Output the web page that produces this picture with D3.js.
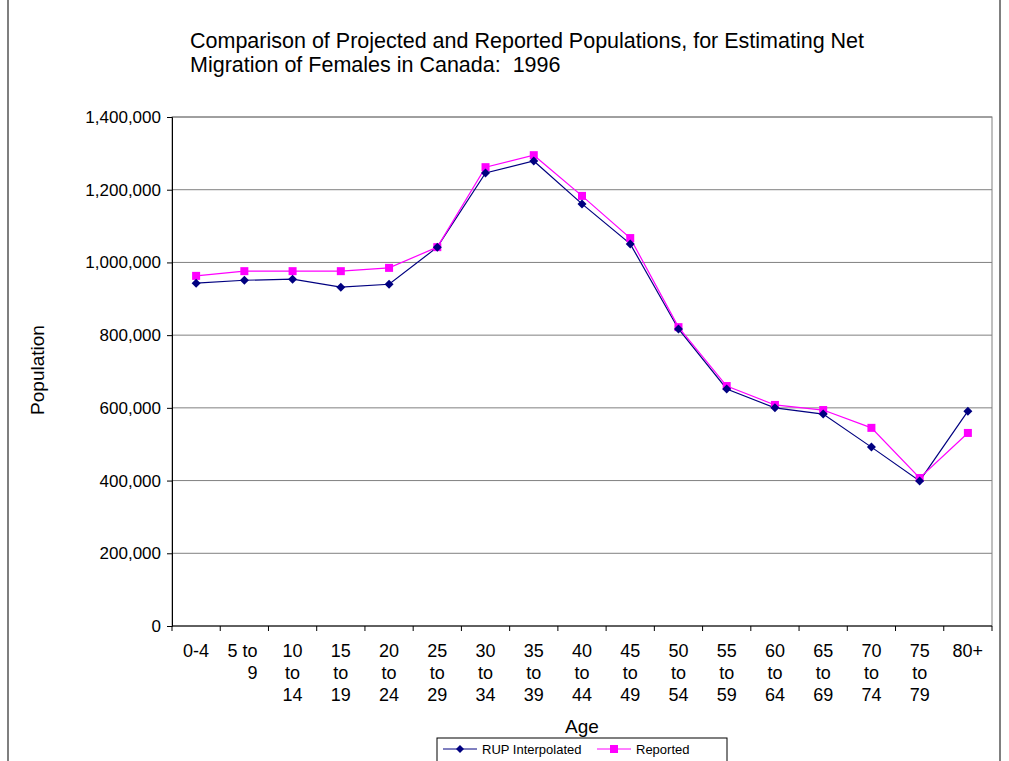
<!DOCTYPE html>
<html><head><meta charset="utf-8">
<script src="https://cdn.jsdelivr.net/npm/d3@7"></script>
<style>body{margin:0;background:#fff}text{font-family:"Liberation Sans",Arial,sans-serif;white-space:pre}</style>
</head><body>
<script>
var categories = [["0-4"],["5 to","9"],["10","to","14"],["15","to","19"],["20","to","24"],["25","to","29"],["30","to","34"],["35","to","39"],["40","to","44"],["45","to","49"],["50","to","54"],["55","to","59"],["60","to","64"],["65","to","69"],["70","to","74"],["75","to","79"],["80+"]]
var rup = [943000,951000,954000,932000,940000,1042000,1246000,1279000,1161000,1051000,817000,652000,600000,583000,492000,399000,591000]
var reported = [963000,976000,976000,976000,985000,1042000,1262000,1295000,1183000,1067000,822000,660000,608000,594000,545000,407000,531000]
var yTicks = [0,200000,400000,600000,800000,1000000,1200000,1400000]

var W = 1009, H = 761
var svg = d3.select("body").append("svg").attr("width", W).attr("height", H)
svg.append("rect").attr("x", 8).attr("y", -1).attr("width", 992).attr("height", H + 2)
    .attr("fill", "#fff").attr("stroke", "#000")

var pLeft = 172, pRight = 992, pTop = 117, pBottom = 626
var x = d3.scaleBand().domain(d3.range(categories.length)).range([pLeft, pRight])
var y = d3.scaleLinear().domain([0, 1400000]).range([pBottom, pTop])

svg.append("rect").attr("x", pLeft).attr("y", pTop).attr("width", pRight - pLeft).attr("height", pBottom - pTop)
    .attr("fill", "#fff").attr("stroke", "#808080")
svg.selectAll(".grid").data(yTicks.slice(1)).enter().append("line")
    .attr("x1", pLeft).attr("x2", pRight).attr("y1", d => y(d)).attr("y2", d => y(d))
    .attr("stroke", "#808080")

var ya = svg.append("g").attr("transform", "translate(" + pLeft + ",0)")
    .call(d3.axisLeft(y).tickValues(yTicks).tickSize(5).tickFormat(d3.format(",")))
ya.attr("font-size", null).attr("font-family", null)
ya.select(".domain").attr("stroke", "#000")
ya.selectAll("text").style("font-size", "17px").attr("fill", "#000").attr("dx", -3)

svg.append("line").attr("x1", pLeft).attr("x2", pRight).attr("y1", pBottom).attr("y2", pBottom).attr("stroke", "#000")
svg.selectAll(".sep").data(d3.range(categories.length + 1)).enter().append("line")
    .attr("x1", d => pLeft + d * x.step()).attr("x2", d => pLeft + d * x.step())
    .attr("y1", pBottom).attr("y2", pBottom + 5).attr("stroke", "#000")
categories.forEach(function(c, i) {
    var t = svg.append("text").style("font-size", "18px").attr("text-anchor", c.length == 2 ? "end" : "middle")
    c.forEach(function(s, j) {
        t.append("tspan").attr("x", c.length == 2 ? x(i) + x.bandwidth() - 11 : x(i) + x.bandwidth() / 2)
            .attr("y", 657 + j * 22).text(s)
    })
})

svg.append("text").attr("x", 582).attr("y", 733).attr("text-anchor", "middle").style("font-size", "19px").text("Age")
svg.append("text").attr("transform", "translate(44,370) rotate(-90)").attr("text-anchor", "middle")
    .style("font-size", "19px").text("Population")
svg.append("text").attr("x", 190).attr("y", 48).style("font-size", "21.5px").text("Comparison of Projected and Reported Populations, for Estimating Net")
svg.append("text").attr("x", 190).attr("y", 72).style("font-size", "21.5px").text("Migration of Females in Canada:  1996")

var cx = i => x(i) + x.bandwidth() / 2
var line = d3.line().x((d, i) => cx(i)).y(d => y(d))
svg.append("path").attr("d", line(rup)).attr("fill", "none").attr("stroke", "#000080").attr("stroke-width", 1.2)
svg.append("path").attr("d", line(reported)).attr("fill", "none").attr("stroke", "#ff00ff").attr("stroke-width", 1.2)
svg.selectAll(".sq").data(reported).enter().append("rect")
    .attr("x", (d, i) => cx(i) - 4).attr("y", d => y(d) - 4).attr("width", 8).attr("height", 8).attr("fill", "#ff00ff")
svg.selectAll(".dm").data(rup).enter().append("path")
    .attr("transform", (d, i) => "translate(" + cx(i) + "," + y(d) + ")")
    .attr("d", "M0,-4.5L4.5,0L0,4.5L-4.5,0Z").attr("fill", "#000080")

var lg = svg.append("g").attr("transform", "translate(437,738)")
lg.append("rect").attr("width", 290).attr("height", 26).attr("fill", "#fff").attr("stroke", "#000")
lg.append("line").attr("x1", 6).attr("x2", 40).attr("y1", 11).attr("y2", 11).attr("stroke", "#000080")
lg.append("path").attr("transform", "translate(23,11)").attr("d", "M0,-4L4,0L0,4L-4,0Z").attr("fill", "#000080")
lg.append("text").attr("x", 45).attr("y", 16).style("font-size", "13px").text("RUP Interpolated")
lg.append("line").attr("x1", 160).attr("x2", 194).attr("y1", 11).attr("y2", 11).attr("stroke", "#ff00ff")
lg.append("rect").attr("x", 173).attr("y", 7).attr("width", 8).attr("height", 8).attr("fill", "#ff00ff")
lg.append("text").attr("x", 199).attr("y", 16).style("font-size", "13px").text("Reported")
</script>
</body></html>
